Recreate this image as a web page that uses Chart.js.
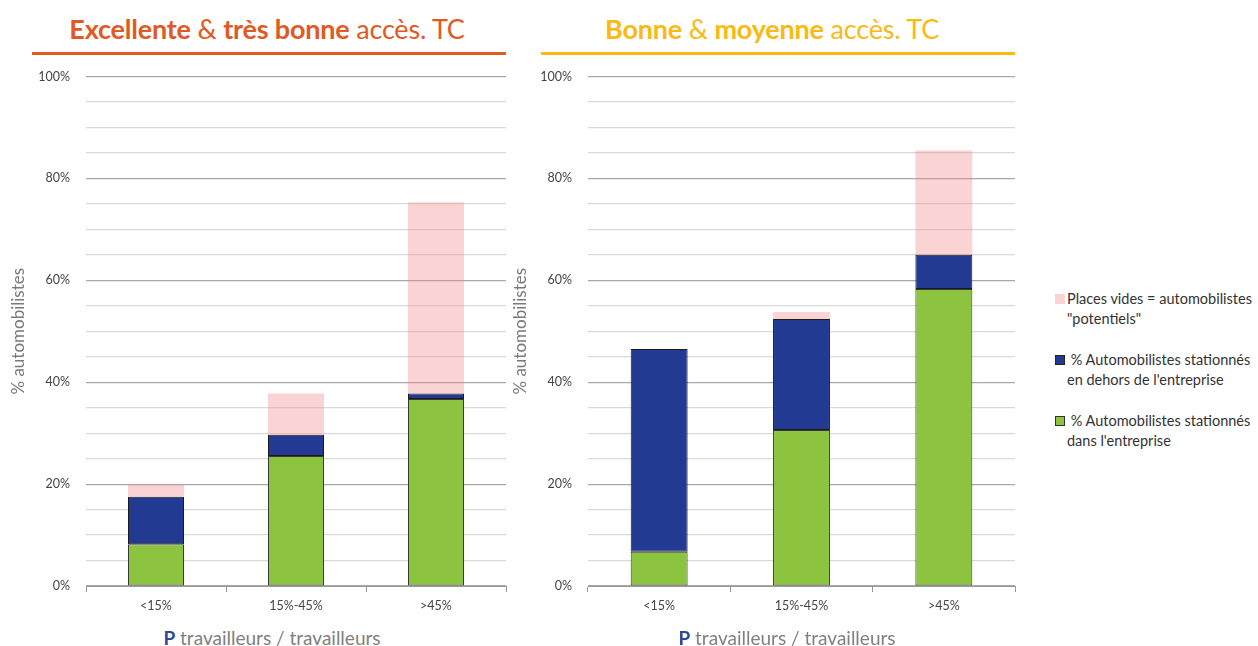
<!DOCTYPE html>
<html lang="fr">
<head>
<meta charset="UTF-8">
<title>Automobilistes et accès TC</title>
<script src="https://cdn.jsdelivr.net/npm/chart.js"></script>
<style>
  body { margin: 0; background: #fff; font-family: Lato, "Open Sans", sans-serif; }
  #page { position: relative; width: 1258px; height: 646px; overflow: hidden; }
  .title { position: absolute; top: 12px; font-size: 27px; white-space: nowrap; transform: translateX(-50%); letter-spacing: -0.2px; }
  .title b { font-weight: 700; }
  .title span { font-weight: 400; }
  .rule { position: absolute; top: 52px; height: 3px; }
  .wrap { position: absolute; top: 53px; height: 567px; }
  .xtitle { position: absolute; top: 626px; font-size: 19px; color: #808080; transform: translateX(-50%); white-space: nowrap; }
  .xtitle b { color: #2b4a9b; font-weight: 700; }
  .legend { position: absolute; left: 1055px; top: 289px; font-size: 14.5px; color: #333; line-height: 20px; }
  .legend .item { position: relative; padding-left: 12px; margin-bottom: 21px; white-space: nowrap; }
  .legend .sw { position: absolute; left: 0; top: 5px; width: 10px; height: 10px; box-sizing: border-box; }
</style>
</head>
<body>
<div id="page">
  <div class="title" style="left:267px;color:#e05a24"><b>Excellente</b> <span>&amp;</span> <b>très bonne</b> <span>accès. TC</span></div>
  <div class="rule" style="left:32px;width:474px;background:#e05a24"></div>
  <div class="title" style="left:772px;color:#fbb913"><b>Bonne</b> <span>&amp;</span> <b>moyenne</b> <span>accès. TC</span></div>
  <div class="rule" style="left:541px;width:474px;background:#fbb913"></div>

  <div class="wrap" style="left:0px;width:512px"><canvas id="c1"></canvas></div>
  <div class="wrap" style="left:502px;width:519px"><canvas id="c2"></canvas></div>

  <div class="xtitle" style="left:272px"><b>P</b> travailleurs / travailleurs</div>
  <div class="xtitle" style="left:787px"><b>P</b> travailleurs / travailleurs</div>

  <div class="legend">
    <div class="item"><div class="sw" style="background:#fad4d4"></div>Places vides = automobilistes<br>"potentiels"</div>
    <div class="item"><div class="sw" style="background:#233a93;border:1px solid #222"></div>&nbsp;% Automobilistes stationnés<br>en dehors de l'entreprise</div>
    <div class="item"><div class="sw" style="background:#8cc43f;border:1px solid #333"></div>&nbsp;% Automobilistes stationnés<br>dans l'entreprise</div>
  </div>
</div>
<script>
const categories = ["<15%", "15%-45%", ">45%"];

// left panel: excellente & très bonne accessibilité TC
const greenLeft = [8.2, 25.5, 36.7];
const blueLeft = [9.3, 4.2, 1.1];
const pinkLeft = [2.4, 8.1, 37.5];

// right panel: bonne & moyenne accessibilité TC
const greenRight = [6.7, 30.6, 58.3];
const blueRight = [39.8, 21.8, 6.7];
const pinkRight = [0, 1.4, 20.5];

const yTicks = [0, 20, 40, 60, 80, 100];

function makeChart(id, green, blue, pink) {
  new Chart(document.getElementById(id), {
    type: "bar",
    data: {
      labels: categories,
      datasets: [
        { label: "dans l'entreprise", data: green, backgroundColor: "#8cc43f",
          borderColor: "#3a3a3a", borderWidth: 1, borderSkipped: false },
        { label: "en dehors", data: blue, backgroundColor: "#233a93",
          borderColor: "#1a1a1a", borderWidth: 1, borderSkipped: false },
        { label: "places vides", data: pink, backgroundColor: "rgba(242,135,135,0.36)",
          borderWidth: 0 }
      ]
    },
    options: {
      responsive: true,
      maintainAspectRatio: false,
      animation: false,
      layout: { padding: { top: 10, right: 6, left: 0, bottom: 0 } },
      plugins: { legend: { display: false }, tooltip: { enabled: false } },
      datasets: { bar: { categoryPercentage: 0.4, barPercentage: 1 } },
      scales: {
        x: {
          stacked: true,
          afterFit: s => { s.height = 34; },
          grid: { offset: true, drawOnChartArea: false, tickLength: 6, color: "#999" },
          border: { color: "#999" },
          ticks: { color: "#444", font: { family: "Lato", size: 12.5 }, padding: 6 }
        },
        y: {
          stacked: true,
          min: 0, max: 100,
          afterFit: s => { s.width = 86; },
          afterBuildTicks: s => {
            const t = [];
            for (let v = 0; v <= 100; v += 5) t.push({ value: v });
            s.ticks = t;
          },
          grid: {
            drawTicks: false,
            lineWidth: 1.2,
            color: c => (c.tick.value % 20 === 0 ? "#a8a8a8" : "#d9d9d9")
          },
          border: { display: false },
          ticks: {
            padding: 16,
            color: "#444",
            font: { family: "Lato", size: 12.5 },
            callback: v => (yTicks.includes(v) ? v + "%" : "")
          },
          title: {
            display: true,
            text: "% automobilistes",
            color: "#7a7a7a",
            font: { family: "Lato", size: 17 },
            padding: { top: 8, bottom: 0 }
          }
        }
      }
    }
  });
}

makeChart("c1", greenLeft, blueLeft, pinkLeft);
makeChart("c2", greenRight, blueRight, pinkRight);
</script>
</body>
</html>
